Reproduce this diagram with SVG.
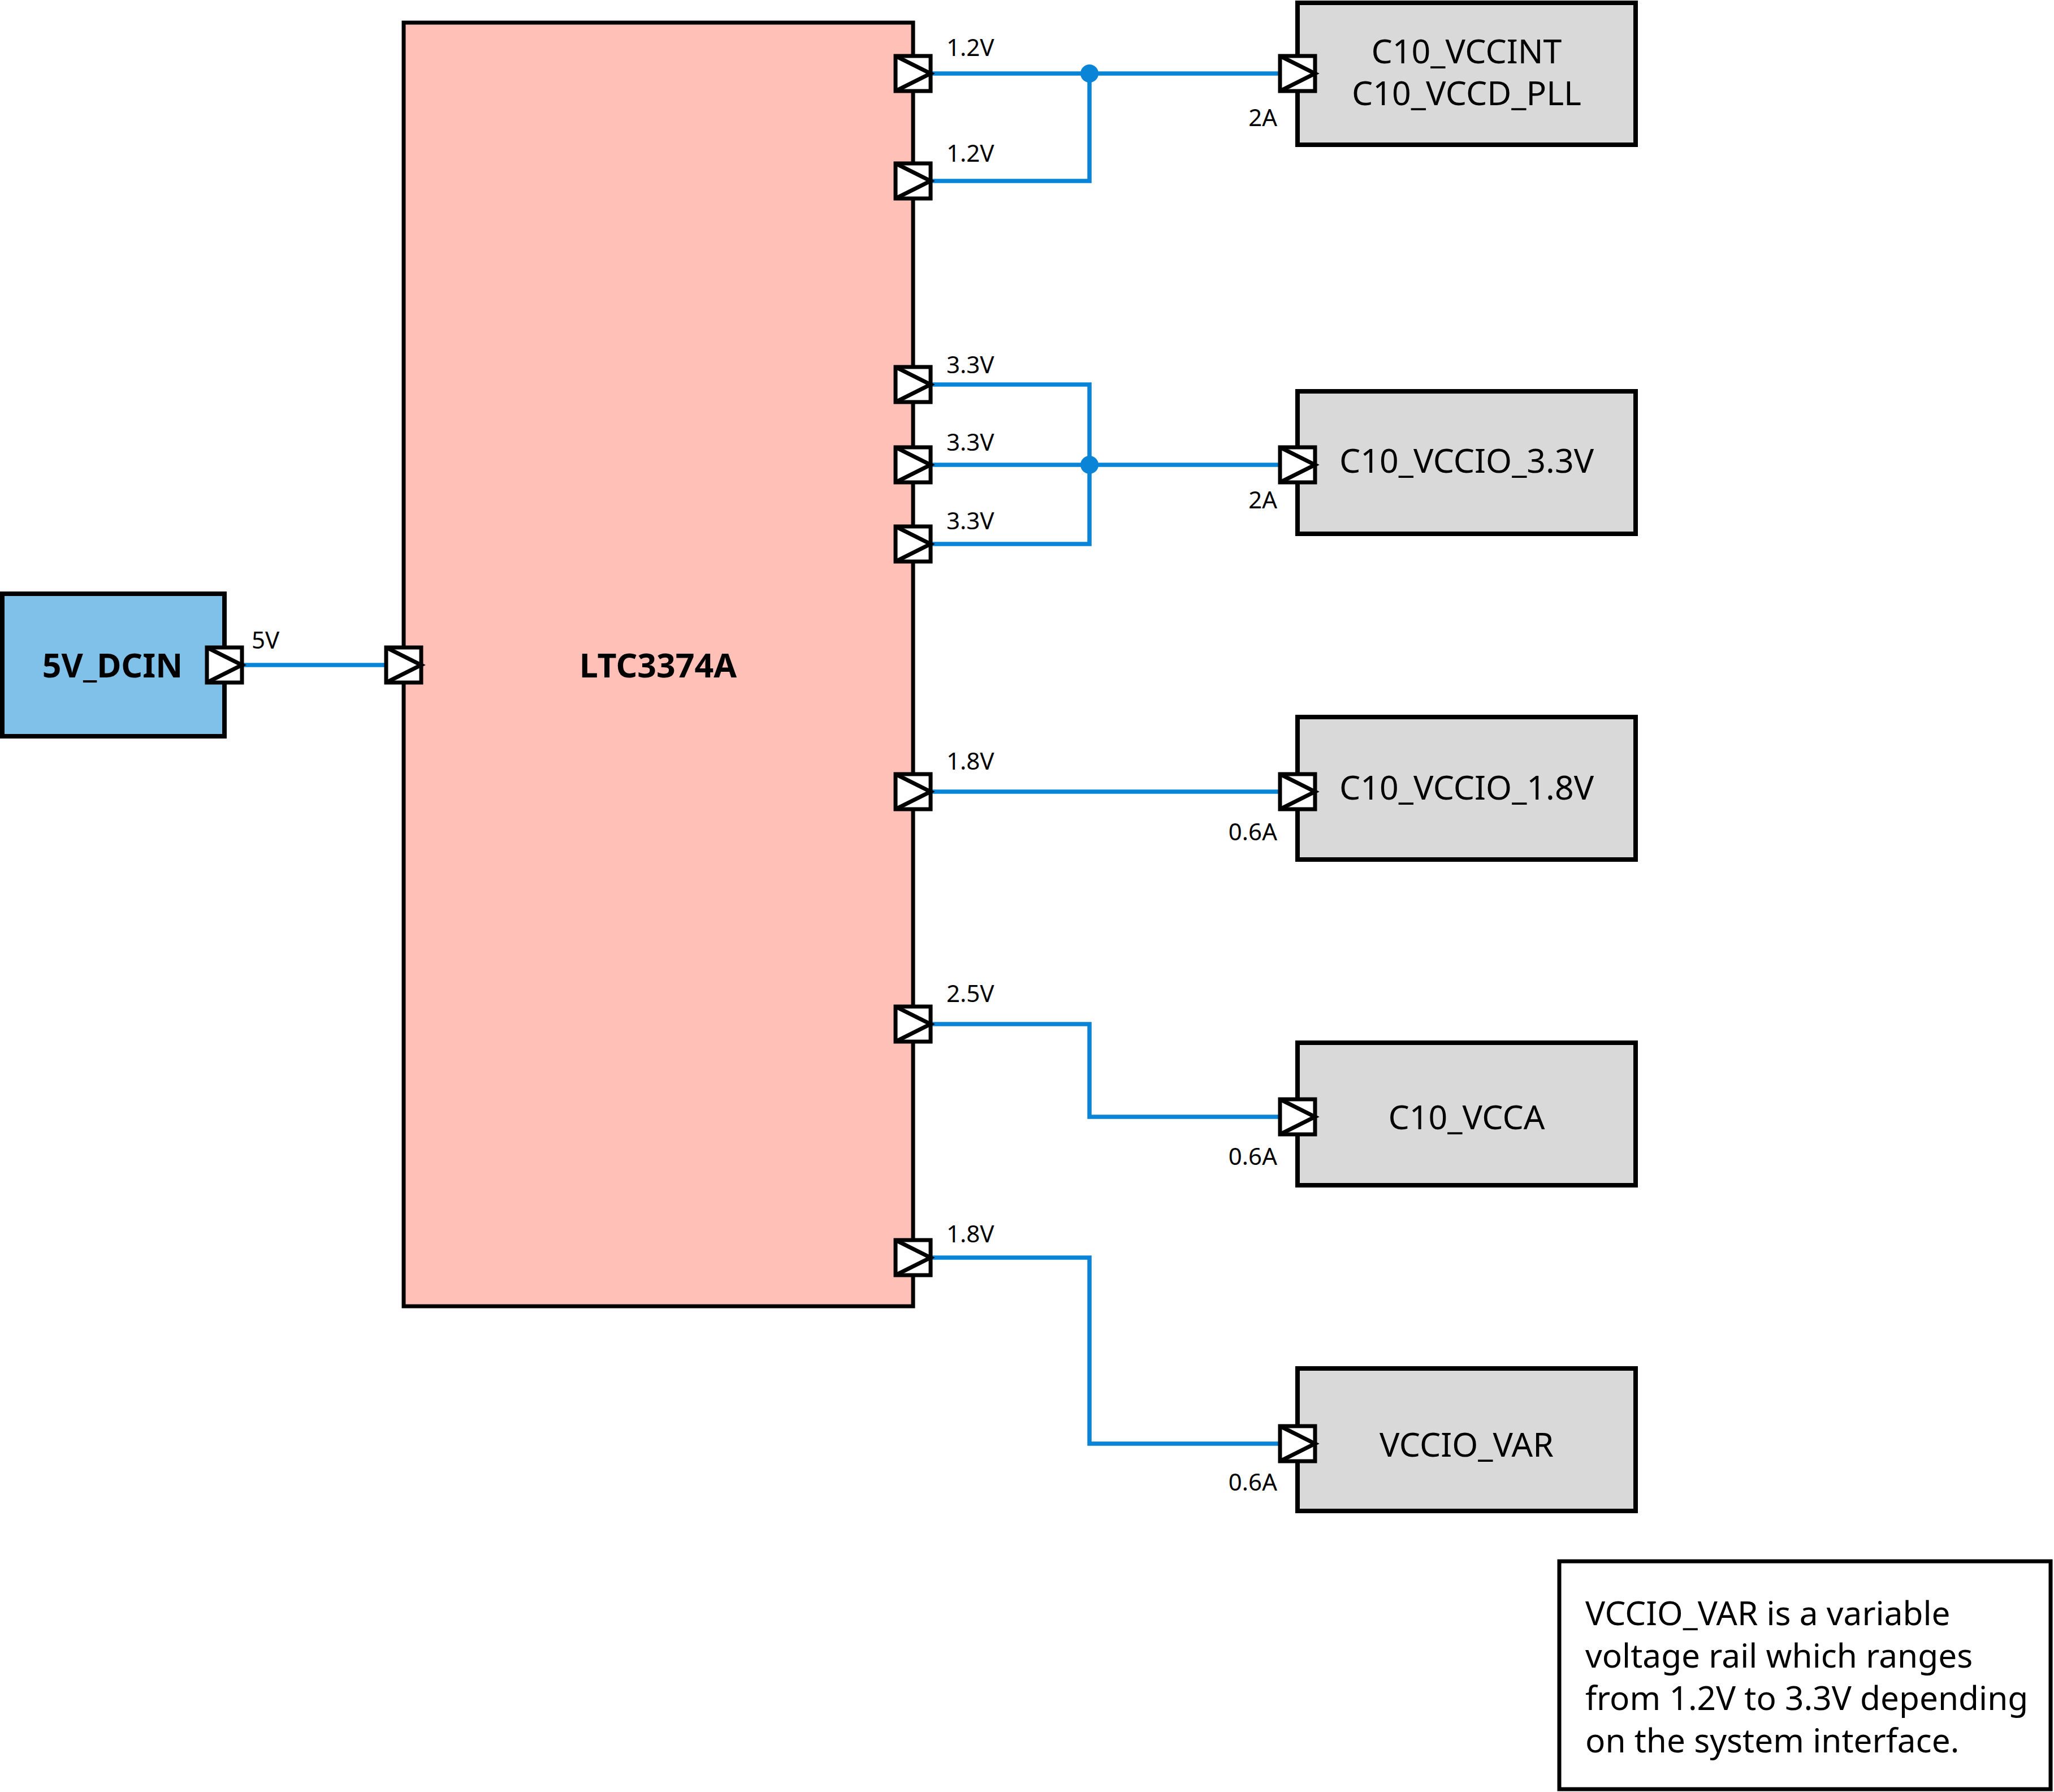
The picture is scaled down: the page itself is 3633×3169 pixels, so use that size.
<svg xmlns="http://www.w3.org/2000/svg" width="3633" height="3169" viewBox="0 0 3633 3169">
<defs>
<style>
.bg{fill:#ffffff}
.ltc{fill:#fec0b7;stroke:#000;stroke-width:7}
.src{fill:#80c1e9;stroke:#000;stroke-width:8}
.dst{fill:#d9d9d9;stroke:#000;stroke-width:8}
.note{fill:#ffffff;stroke:#000;stroke-width:7}
.port rect{fill:#ffffff;stroke:#000;stroke-width:7}
.port polyline{fill:none;stroke:#000;stroke-width:7;stroke-linejoin:miter}
.wire{fill:none;stroke:#0a84d6;stroke-width:7.5}
.dot{fill:#0a84d6}
text{font-family:"Noto Sans","Open Sans","DejaVu Sans",sans-serif;fill:#000}
.big{font-size:59px}
.bold{font-weight:bold}
.lbl{font-size:42px}
.nt{font-size:58.5px}
</style>
<g id="portSym" class="port">
<rect x="-31" y="-31" width="62" height="62"/>
<polyline points="-31,-31 31,0 -31,31"/>
</g>
</defs>
<rect class="bg" x="0" y="0" width="3633" height="3169"/>

<g id="connectors">
<path class="wire" d="M428 1176 H683"/>
<path class="wire" d="M1646 130 H2263"/>
<path class="wire" d="M1646 320 H1927 V130"/>
<path class="wire" d="M1646 680 H1927 V962 H1646"/>
<path class="wire" d="M1646 822 H2263"/>
<path class="wire" d="M1646 1400 H2263"/>
<path class="wire" d="M1646 1811 H1927 V1975 H2263"/>
<path class="wire" d="M1646 2224 H1927 V2553 H2263"/>
<circle class="dot" cx="1927" cy="130" r="16"/>
<circle class="dot" cx="1927" cy="822" r="16"/>
</g>

<g id="n5V_DCIN">
<rect class="src" x="4" y="1050" width="393" height="252"/>
<text class="big bold" x="199" y="1198" text-anchor="middle">5V_DCIN</text>
<use href="#portSym" x="397" y="1176"/>
<text class="lbl" x="445" y="1147">5V</text>
</g>

<g id="nLTC3374A">
<rect class="ltc" x="714" y="40" width="901" height="2270"/>
<text class="big bold" x="1164" y="1198" text-anchor="middle">LTC3374A</text>
<use href="#portSym" x="714" y="1176"/>
<use href="#portSym" x="1615" y="130"/>
<use href="#portSym" x="1615" y="320"/>
<use href="#portSym" x="1615" y="680"/>
<use href="#portSym" x="1615" y="822"/>
<use href="#portSym" x="1615" y="962"/>
<use href="#portSym" x="1615" y="1400"/>
<use href="#portSym" x="1615" y="1811"/>
<use href="#portSym" x="1615" y="2224"/>
<text class="lbl" x="1674" y="99">1.2V</text>
<text class="lbl" x="1674" y="286">1.2V</text>
<text class="lbl" x="1674" y="660">3.3V</text>
<text class="lbl" x="1674" y="797">3.3V</text>
<text class="lbl" x="1674" y="936">3.3V</text>
<text class="lbl" x="1674" y="1361">1.8V</text>
<text class="lbl" x="1674" y="1772">2.5V</text>
<text class="lbl" x="1674" y="2197">1.8V</text>
</g>

<g id="nC10_VCCINT">
<rect class="dst" x="2295" y="5" width="598" height="251"/>
<text class="big" x="2594" y="112" text-anchor="middle">C10_VCCINT</text>
<text class="big" x="2594" y="186" text-anchor="middle">C10_VCCD_PLL</text>
<use href="#portSym" x="2295" y="130"/>
<text class="lbl" x="2259" y="223" text-anchor="end">2A</text>
</g>

<g id="nC10_VCCIO_3_3V">
<rect class="dst" x="2295" y="692" width="598" height="252"/>
<text class="big" x="2594" y="836" text-anchor="middle">C10_VCCIO_3.3V</text>
<use href="#portSym" x="2295" y="822"/>
<text class="lbl" x="2259" y="899" text-anchor="end">2A</text>
</g>

<g id="nC10_VCCIO_1_8V">
<rect class="dst" x="2295" y="1268" width="598" height="252"/>
<text class="big" x="2594" y="1414" text-anchor="middle">C10_VCCIO_1.8V</text>
<use href="#portSym" x="2295" y="1400"/>
<text class="lbl" x="2259" y="1486" text-anchor="end">0.6A</text>
</g>

<g id="nC10_VCCA">
<rect class="dst" x="2295" y="1844" width="598" height="252"/>
<text class="big" x="2594" y="1997" text-anchor="middle">C10_VCCA</text>
<use href="#portSym" x="2295" y="1975"/>
<text class="lbl" x="2259" y="2060" text-anchor="end">0.6A</text>
</g>

<g id="nVCCIO_VAR">
<rect class="dst" x="2295" y="2420" width="598" height="252"/>
<text class="big" x="2594" y="2576" text-anchor="middle">VCCIO_VAR</text>
<use href="#portSym" x="2295" y="2553"/>
<text class="lbl" x="2259" y="2636" text-anchor="end">0.6A</text>
</g>

<g id="nNote">
<rect class="note" x="2758" y="2761" width="869" height="403"/>
<text class="nt" x="2804" y="2874">VCCIO_VAR is a variable</text>
<text class="nt" x="2804" y="2949">voltage rail which ranges</text>
<text class="nt" x="2804" y="3024">from 1.2V to 3.3V depending</text>
<text class="nt" x="2804" y="3099">on the system interface.</text>
</g>
</svg>
